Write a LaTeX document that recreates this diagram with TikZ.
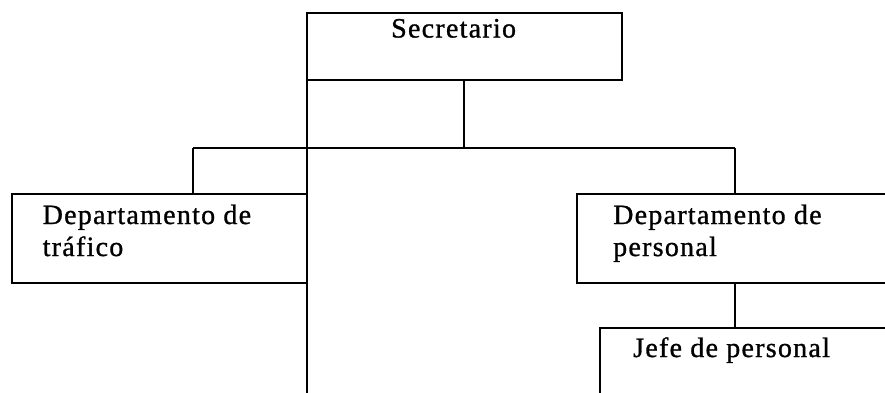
\documentclass[tikz,border=0pt]{standalone}
\usepackage{fontspec}
\setmainfont{Liberation Serif}[LetterSpace=4.5,FakeBold=1]
\begin{document}
\begin{tikzpicture}[x=1pt,y=-1pt,
  box/.style={draw=black,line width=2.4pt,rectangle,inner sep=0pt,outer sep=0pt},
  lbl/.style={anchor=base west,inner sep=0pt,font=\fontsize{28}{32}\selectfont,align=left},
  conn/.style={draw=black,line width=2.4pt}]
\useasboundingbox (0,0) rectangle (885,392);
\fill[white] (0,0) rectangle (885,392);
% boxes
\node[box,minimum width=315pt,minimum height=67pt] (sec) at (464.5,46.5) {};
\node[box,minimum width=295pt,minimum height=89pt] (traf) at (159.5,238.5) {};
\node[box,minimum width=330pt,minimum height=89pt] (pers) at (742,238.5) {};
\node[box,minimum width=320pt,minimum height=100pt] (jefe) at (760,378) {};
% texts
\node[lbl] (tsec) at (391,37.5) {Secretario};
\node[lbl] (ttraf) at (42.5,256) {Departamento de\\tráfico};
\node[lbl] (tpers) at (613,256) {Departamento de\\personal};
\node[lbl] (tjefe) at (633,357) {Jefe de personal};
% connectors
\coordinate (hub) at (464,148);
\coordinate (hl) at (193,148);
\coordinate (hr) at (735,148);
\coordinate (bot) at (307,400);
\draw[conn] (sec.south -| hub) -- (hub);
\draw[conn] (hl) -- (hr);
\draw[conn] (hl) -- (traf.north -| hl);
\draw[conn] (hr) -- (pers.north -| hr);
\draw[conn] (pers.south -| hr) -- (jefe.north -| hr);
\draw[conn] (sec.south west) -- (bot);
\end{tikzpicture}
\end{document}
